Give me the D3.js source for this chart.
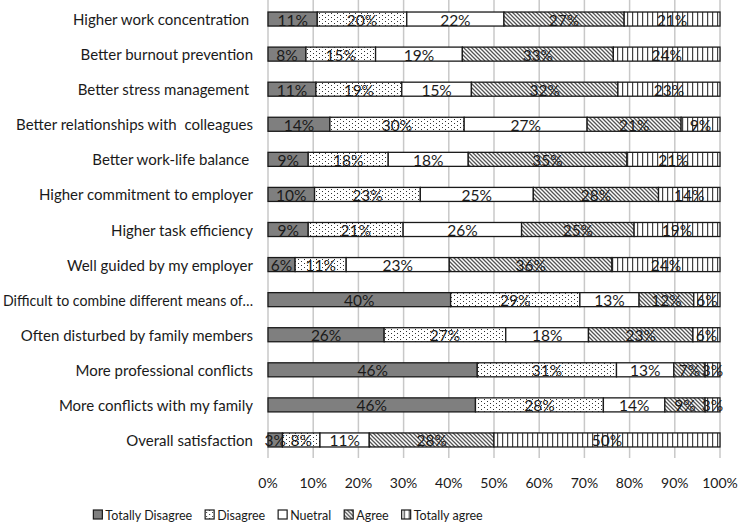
<!DOCTYPE html>
<html><head><meta charset="utf-8">
<script src="https://cdn.jsdelivr.net/npm/d3@7"></script>
<style>body{margin:0;background:#fff}svg{display:block}text{font-family:Lato,"Open Sans",sans-serif;fill:#1a1a1a;white-space:pre}</style>
</head><body><svg id="c" width="738" height="524"></svg>
<script>
const categories = ["Higher work concentration ","Better burnout prevention","Better stress management ","Better relationships with  colleagues","Better work-life balance ","Higher commitment to employer","Higher task efficiency","Well guided by my employer","Difficult to combine different means of…","Often disturbed by family members","More professional conflicts","More conflicts with my family","Overall satisfaction"];
const seriesNames = ["Totally Disagree","Disagree","Nuetral","Agree","Totally agree"];
const totallyDisagree = [10.9, 8.4, 10.6, 13.7, 8.9, 10.3, 8.9, 6.0, 40.4, 25.7, 46.3, 45.9, 3.2];
const disagree        = [19.8, 15.4, 19.0, 29.7, 17.7, 23.4, 21.0, 11.3, 28.6, 26.9, 30.8, 28.3, 8.3];
const neutral         = [21.5, 19.2, 15.4, 27.2, 17.7, 25.0, 26.2, 22.8, 13.1, 18.3, 12.7, 13.6, 10.9];
const agree           = [26.6, 33.4, 32.4, 20.8, 35.1, 27.7, 24.9, 36.0, 12.1, 23.1, 6.9, 8.9, 27.6];
const totallyAgree    = [21.2, 23.6, 22.6, 8.6, 20.6, 13.6, 19.0, 23.9, 5.8, 6.0, 3.3, 3.3, 50.0];
const xTicks = [0,10,20,30,40,50,60,70,80,90,100];

const seriesData = [totallyDisagree, disagree, neutral, agree, totallyAgree];
const rows = categories.map((c,i)=>{const o={cat:c}; seriesNames.forEach((s,j)=>o[s]=seriesData[j][i]); return o;});
const stacked = d3.stack().keys(seriesNames)(rows);

const svg = d3.select("#c");
const defs = svg.append("defs");
const pd = defs.append("pattern").attr("id","p1").attr("patternUnits","userSpaceOnUse").attr("width",6).attr("height",4);
pd.append("rect").attr("width",6).attr("height",4).attr("fill","#fff");
pd.append("rect").attr("x",1).attr("y",1).attr("width",1).attr("height",1).attr("fill","#333");
pd.append("rect").attr("x",4).attr("y",3).attr("width",1).attr("height",1).attr("fill","#333");
const ph = defs.append("pattern").attr("id","p3").attr("patternUnits","userSpaceOnUse").attr("width",4).attr("height",4);
ph.append("rect").attr("width",4).attr("height",4).attr("fill","#fff");
ph.append("path").attr("d","M-1,-1 L5,5 M-1,3 L1,5 M3,-1 L5,1").attr("stroke","#555").attr("stroke-width",1.3);
const pv = defs.append("pattern").attr("id","p4").attr("patternUnits","userSpaceOnUse").attr("width",5).attr("height",5);
pv.append("rect").attr("width",5).attr("height",5).attr("fill","#fff");
pv.append("rect").attr("x",2).attr("width",1.2).attr("height",5).attr("fill","#444");

const fills = ["#7f7f7f","url(#p1)","#fff","url(#p3)","url(#p4)"];

const x = d3.scaleLinear().domain([0,100]).range([268,720]);
const y = d3.scaleBand().domain(categories).range([1.5,457.5]).paddingInner(0.6).paddingOuter(0.3);

svg.append("g").selectAll("line").data(xTicks).join("line")
  .attr("x1",d=>x(d)).attr("x2",d=>x(d)).attr("y1",0).attr("y2",458)
  .attr("stroke","#c8c8c8").attr("stroke-width",1.5);

const g = svg.append("g");
stacked.forEach((s,si)=>{
  g.append("g").selectAll("rect").data(s).join("rect")
    .attr("x",d=>x(d[0])).attr("width",d=>x(d[1])-x(d[0]))
    .attr("y",d=>y(d.data.cat)).attr("height",y.bandwidth())
    .attr("fill",fills[si]).attr("stroke","#1a1a1a").attr("stroke-width",1.3);
});
stacked.forEach((s,si)=>{
  g.append("g").selectAll("text").data(s).join("text")
    .attr("x",d=>(x(d[0])+x(d[1]))/2).attr("y",d=>y(d.data.cat)+y.bandwidth()/2+0.5)
    .attr("text-anchor","middle").attr("dominant-baseline","central")
    .attr("font-size",15.5)
    .text(d=>Math.round(d[1]-d[0])+"%");
});

svg.append("g").selectAll("text").data(categories).join("text")
  .attr("x",253).attr("y",d=>y(d)+y.bandwidth()/2).attr("text-anchor","end")
  .attr("dominant-baseline","central").attr("font-size",15).text(d=>d)
  .each(function(){ const w=this.getComputedTextLength(); if(w>250){ d3.select(this).attr("textLength",250).attr("lengthAdjust","spacingAndGlyphs"); } });

svg.append("g").selectAll("text").data(xTicks).join("text")
  .attr("x",d=>x(d)).attr("y",482).attr("text-anchor","middle").attr("dominant-baseline","central")
  .attr("font-size",14).text(d=>d+"%");

// legend, laid out from measured text widths
const leg = svg.append("g").selectAll("g").data(seriesNames).join("g");
leg.append("rect").attr("x",0).attr("y",-5).attr("width",9).attr("height",9)
  .attr("fill",(d,i)=>fills[i]).attr("stroke","#1a1a1a").attr("stroke-width",1.2);
leg.append("text").attr("x",12).attr("y",0).attr("dominant-baseline","central").attr("font-size",12.5).text(d=>d);
const widths = [];
leg.select("text").each(function(){ widths.push(12+this.getComputedTextLength()); });
const gap = 13;
const total = d3.sum(widths)+gap*(widths.length-1);
let cx = 288 - total/2;
leg.attr("transform",(d,i)=>{ const t=`translate(${cx},515)`; cx += widths[i]+gap; return t; });
</script></body></html>
